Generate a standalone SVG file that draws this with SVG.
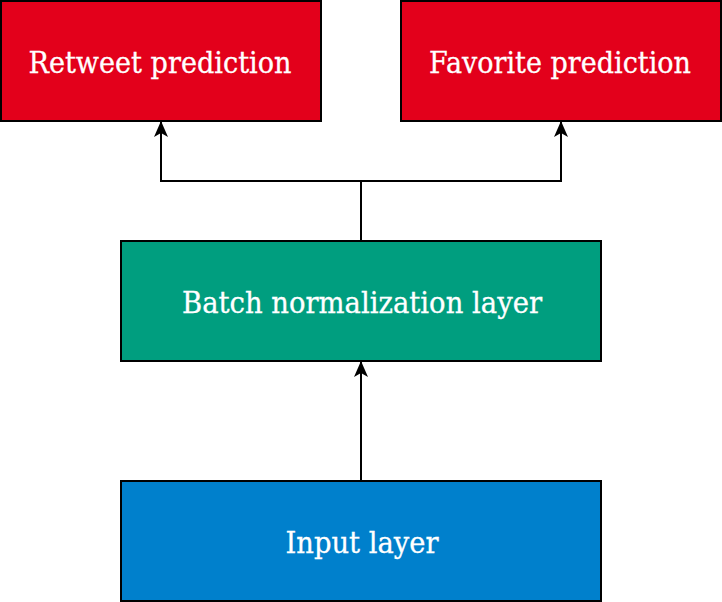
<svg xmlns="http://www.w3.org/2000/svg" width="722" height="602" viewBox="0 0 722 602">
<style>
.box{stroke:#000;stroke-width:2}
.lbl{font-family:"DejaVu Serif","Liberation Serif",serif;font-size:29px;fill:#fff;text-anchor:middle;stroke:#fff;stroke-width:0.3}
.edge{fill:none;stroke:#000;stroke-width:2}
</style>
<defs>
<marker id="arr" viewBox="0 0 16 14" refX="15" refY="7" markerWidth="16" markerHeight="14" markerUnits="userSpaceOnUse" orient="auto">
<path d="M0,0 L16,7 L0,14 L4,7 Z" fill="#000"/>
</marker>
</defs>
<rect width="722" height="602" fill="#fff"/>
<g id="connectors">
<path class="edge" d="M361,241 V181 H161 V122" marker-end="url(#arr)"/>
<path class="edge" d="M361,181 H561 V122" marker-end="url(#arr)"/>
<path class="edge" d="M361,481 V362" marker-end="url(#arr)"/>
</g>
<g id="retweet">
<rect class="box" x="1" y="1" width="320" height="120" fill="#e3001b"/>
<text class="lbl" x="160" y="73" textLength="263" lengthAdjust="spacingAndGlyphs">Retweet prediction</text>
</g>
<g id="favorite">
<rect class="box" x="401" y="1" width="320" height="120" fill="#e3001b"/>
<text class="lbl" x="560" y="73" textLength="262" lengthAdjust="spacingAndGlyphs">Favorite prediction</text>
</g>
<g id="batchnorm">
<rect class="box" x="121" y="241" width="480" height="120" fill="#009e7f"/>
<text class="lbl" x="362" y="313" textLength="360" lengthAdjust="spacingAndGlyphs">Batch normalization layer</text>
</g>
<g id="input">
<rect class="box" x="121" y="481" width="480" height="120" fill="#0080cc"/>
<text class="lbl" x="362" y="553" textLength="153" lengthAdjust="spacingAndGlyphs">Input layer</text>
</g>
</svg>
